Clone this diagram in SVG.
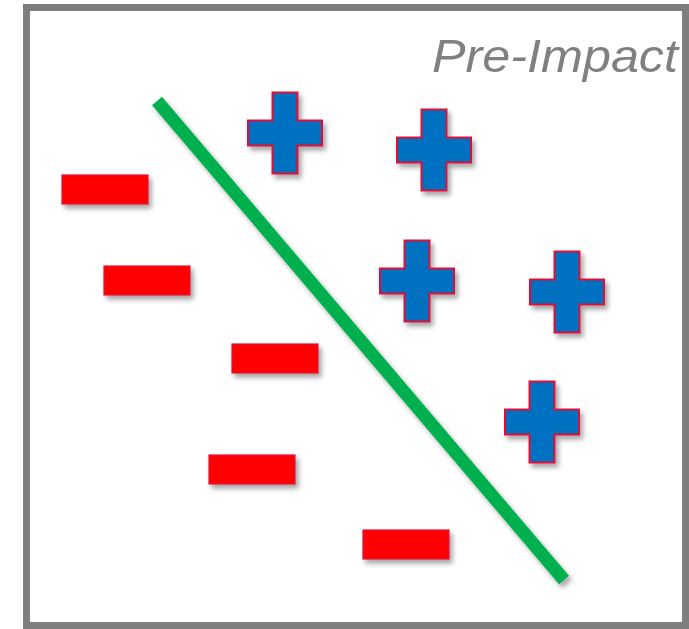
<svg xmlns="http://www.w3.org/2000/svg" width="689" height="629" viewBox="0 0 689 629">
  <style>
    .frame { fill: #ffffff; stroke: #7f7f7f; stroke-width: 7; }
    .title { font-family: "Liberation Sans", Arial, sans-serif; font-style: italic; font-size: 46px; fill: #808080; }
    .plus { fill: #0070c0; stroke: #e0103a; stroke-width: 2; filter: url(#shadow); }
    .minus { fill: #ff0000; stroke: #e0103a; stroke-width: 1.2; filter: url(#shadow); }
    .divider { stroke: #00b050; stroke-width: 13; stroke-linecap: butt; filter: url(#shadow); }
  </style>
  <defs>
    <filter id="shadow" x="-20%" y="-20%" width="150%" height="150%">
      <feDropShadow dx="3" dy="4" stdDeviation="2.5" flood-color="#000" flood-opacity="0.35"/>
    </filter>
    <path id="plusShape" d="M-12.5,-40.5 H12.5 V-12.5 H37 V12.5 H12.5 V40.5 H-12.5 V12.5 H-37 V-12.5 H-12.5 Z"/>
  </defs>

  <rect class="frame" x="26.5" y="7.5" width="659" height="618"/>

  <text class="title" x="432" y="72" textLength="246" lengthAdjust="spacingAndGlyphs">Pre-Impact</text>

  <g id="connectors">
    <line id="divider" class="divider" x1="157" y1="101" x2="564" y2="580"/>
  </g>

  <g id="plus1"><use href="#plusShape" class="plus" transform="translate(285,133)"/></g>
  <g id="plus2"><use href="#plusShape" class="plus" transform="translate(434,150)"/></g>
  <g id="plus3"><use href="#plusShape" class="plus" transform="translate(417,281)"/></g>
  <g id="plus4"><use href="#plusShape" class="plus" transform="translate(567,292)"/></g>
  <g id="plus5"><use href="#plusShape" class="plus" transform="translate(542,422)"/></g>

  <g id="minus1"><rect class="minus" x="62" y="175" width="86" height="29"/></g>
  <g id="minus2"><rect class="minus" x="104" y="266" width="86" height="29"/></g>
  <g id="minus3"><rect class="minus" x="232" y="344" width="86" height="29"/></g>
  <g id="minus4"><rect class="minus" x="209" y="455" width="86" height="29"/></g>
  <g id="minus5"><rect class="minus" x="363" y="530" width="86" height="29"/></g>
</svg>
